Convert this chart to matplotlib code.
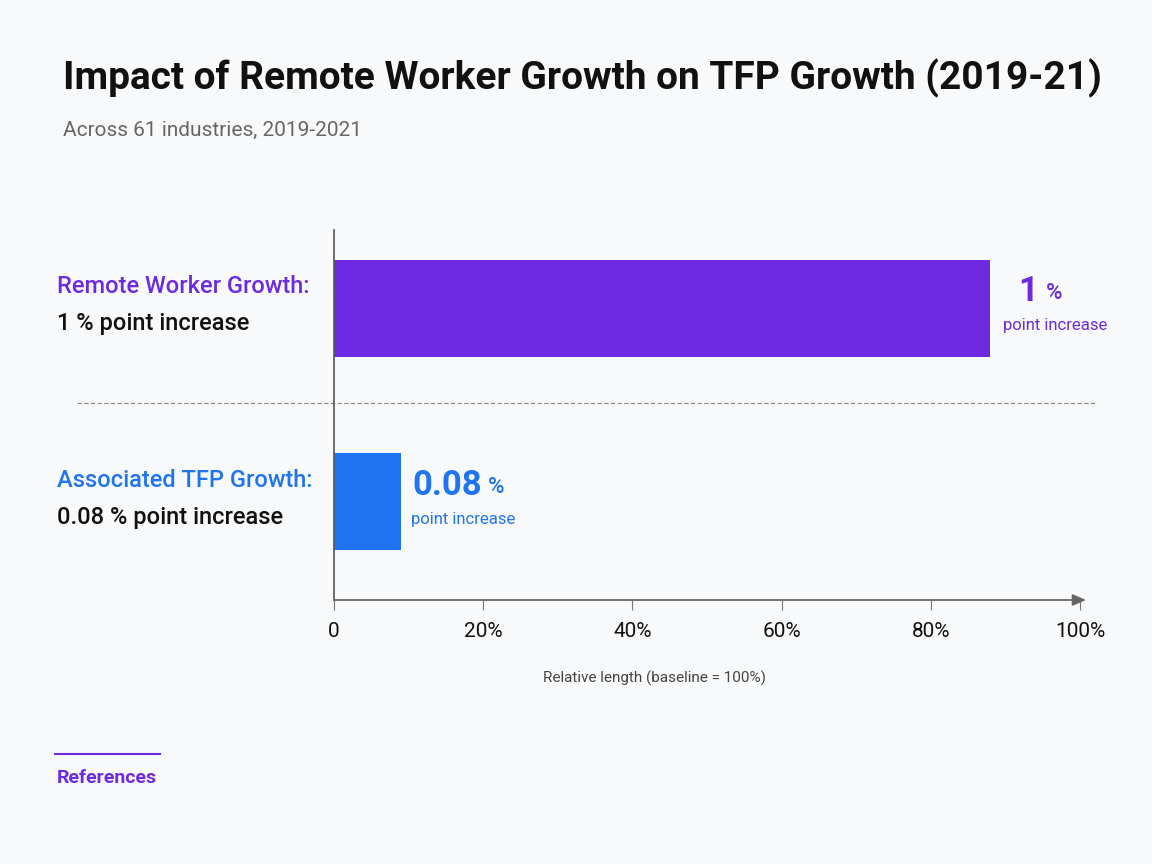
import matplotlib
matplotlib.use("Agg")
import matplotlib.pyplot as plt
from matplotlib.transforms import blended_transform_factory

# data
categories = ["Remote Worker Growth:", "Associated TFP Growth:"]
descriptions = ["1 % point increase", "0.08 % point increase"]
values = ["1", "0.08"]                # % point increase
bar_lengths = [88, 9]                 # relative length in % of the axis
tick_vals = [0, 20, 40, 60, 80, 100]
tick_labels = ["0", "20%", "40%", "60%", "80%", "100%"]

purple = "#6d2ae0"
blue = "#1f74f0"
colors = [purple, blue]
bg = "#f8f9fa"

plt.rcParams["font.family"] = ["Roboto", "DejaVu Sans"]

fig = plt.figure(figsize=(11.52, 8.64), dpi=100, facecolor=bg)
ax = fig.add_axes([334 / 1152, 1 - 600 / 864, 746 / 1152, 370 / 864])
ax.set_facecolor(bg)

ypos = [1, 0]
ax.barh(ypos, bar_lengths, height=0.5, color=colors, zorder=2)
ax.set_xlim(0, 100)
ax.set_ylim(-0.506, 1.403)

# spines / axis arrow
for s in ["top", "right", "bottom"]:
    ax.spines[s].set_visible(False)
ax.spines["left"].set_color("#555555")
ax.spines["left"].set_linewidth(1.2)
ax.annotate("", xy=(100.8, -0.506), xytext=(0, -0.506),
            xycoords="data", annotation_clip=False,
            arrowprops=dict(arrowstyle="-|>,head_length=0.8,head_width=0.35",
                            color="#666666", lw=1.3, shrinkA=0, shrinkB=0))

ax.set_yticks([])
ax.set_xticks(tick_vals)
ax.set_xticklabels(tick_labels, fontsize=15, color="#111111")
ax.tick_params(axis="x", length=7, width=0.8, color="#777777", pad=9)
ax.set_xlabel("Relative length (baseline = 100%)", fontsize=11, color="#444444")
ax.xaxis.set_label_coords(0.43, -0.19)

# dashed separator
trans = blended_transform_factory(fig.transFigure, ax.transData)
ax.plot([77 / 1152, 1097 / 1152], [0.51, 0.51], transform=trans,
        ls=(0, (4, 2)), color="#888888", lw=0.8, clip_on=False, zorder=1)

# category labels at left
for i, y in enumerate(ypos):
    ax.text(57 / 1152, y + 0.11, categories[i], transform=trans,
            fontsize=17, fontweight="medium", color=colors[i], va="center", ha="left")
    ax.text(57 / 1152, y - 0.08, descriptions[i], transform=trans,
            fontsize=17, fontweight="medium", color="#111111", va="center", ha="left")

# value annotations
num_right = [1038 / 1152, 482 / 1152]
pct_left = [1046 / 1152, 488 / 1152]
sub_center = [1055 / 1152, 463 / 1152]
for i, y in enumerate(ypos):
    ax.text(num_right[i], y + 0.085, values[i], transform=trans, fontsize=25,
            fontweight="bold", color=colors[i], va="center", ha="right")
    ax.text(pct_left[i], y + 0.075, "%", transform=trans, fontsize=16,
            fontweight="medium", color=colors[i], va="center", ha="left")
    ax.text(sub_center[i], y - 0.09, "point increase", transform=trans,
            fontsize=12, color=colors[i], va="center", ha="center")

# title & subtitle
fig.text(63 / 1152, 1 - 78 / 864, "Impact of Remote Worker Growth on TFP Growth (2019-21)",
         fontsize=28, fontweight="bold", color="#111111", va="center", ha="left")
fig.text(63 / 1152, 1 - 130 / 864, "Across 61 industries, 2019-2021",
         fontsize=15, color="#666666", va="center", ha="left")

# references
fig.add_artist(plt.Line2D([55 / 1152, 160 / 1152], [1 - 754 / 864, 1 - 754 / 864],
                          color=purple, lw=1.5))
fig.text(57 / 1152, 1 - 778 / 864, "References", fontsize=14, fontweight="bold",
         color=purple, va="center", ha="left")

fig.savefig("out.png", dpi=100, facecolor=bg)
